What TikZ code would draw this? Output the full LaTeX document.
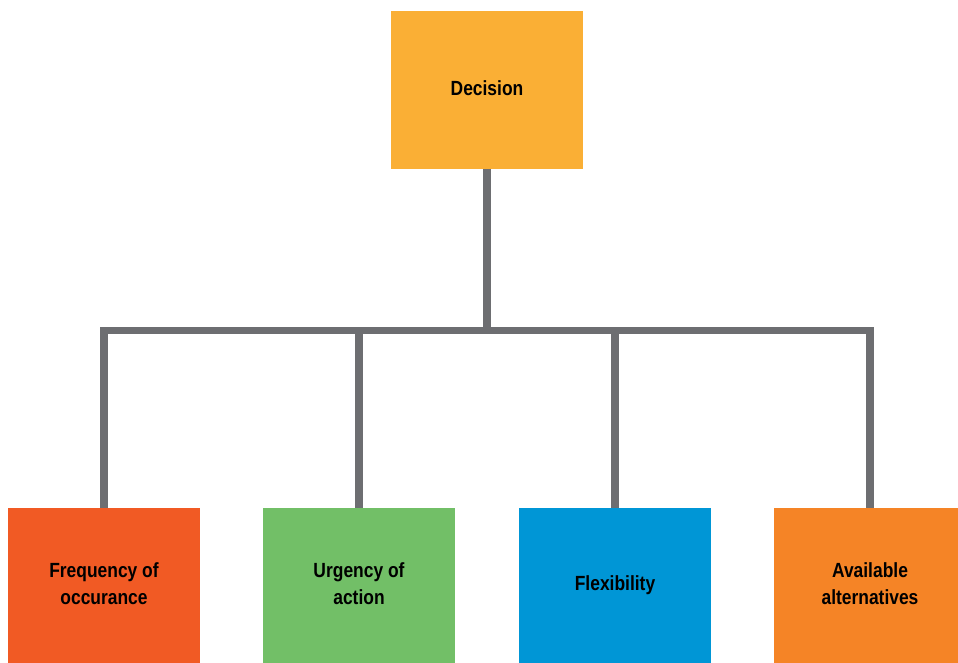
\documentclass[tikz,border=0pt]{standalone}
\usepackage{fontspec}
\newfontfamily\lblfont{Liberation Sans}[FakeStretch=0.85]
\definecolor{cTop}{HTML}{FAAF35}
\definecolor{cRed}{HTML}{F15A24}
\definecolor{cGreen}{HTML}{72BF67}
\definecolor{cBlue}{HTML}{0096D6}
\definecolor{cOrange}{HTML}{F58426}
\definecolor{cLine}{HTML}{6D6E71}
\newcommand\boxlines[1]{\begin{tabular}{@{}c@{}}#1\end{tabular}}
\begin{document}
\begin{tikzpicture}[x=1pt,y=-1pt,
  box/.style={draw=none, minimum width=192pt, minimum height=155pt, inner sep=0pt,
    text=black, font=\lblfont\bfseries\fontsize{20.5}{27}\selectfont},
  conn/.style={draw=cLine, line width=7.5pt, line join=miter}]
\clip (0,0) rectangle (958,663);
\fill[white] (0,0) rectangle (958,663);
\node[box, fill=cTop, minimum width=191.7pt, minimum height=157.7pt] (top) at (487,89.8) {\boxlines{Decision}};
\node[box, fill=cRed] (b1) at (104,585.5) {\boxlines{Frequency of\\occurance}};
\node[box, fill=cGreen] (b2) at (359,585.5) {\boxlines{Urgency of\\action}};
\node[box, fill=cBlue] (b3) at (615,585.5) {\boxlines{Flexibility}};
\node[box, fill=cOrange] (b4) at (870,585.5) {\boxlines{Available\\alternatives}};
\coordinate (bar) at (487,330.5);
\draw[conn] (top.south) -- (bar);
\draw[conn] (b1.north) -- (b1.north |- bar) -- (b4.north |- bar) -- (b4.north);
\draw[conn] (b2.north) -- (b2.north |- bar);
\draw[conn] (b3.north) -- (b3.north |- bar);
\end{tikzpicture}
\end{document}
